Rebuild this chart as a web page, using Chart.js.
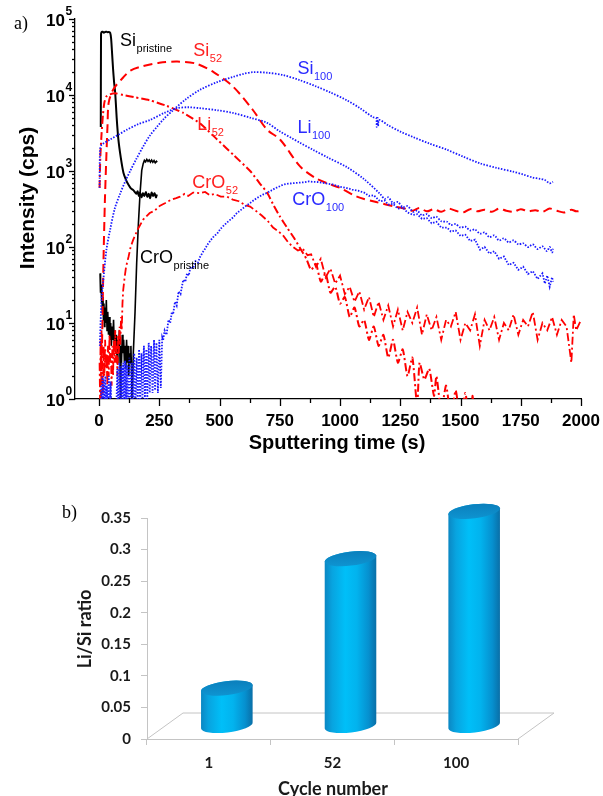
<!DOCTYPE html>
<html>
<head>
<meta charset="utf-8">
<script src="https://cdn.jsdelivr.net/npm/chart.js@4.4.1/dist/chart.umd.min.js"></script>
<style>
  body { margin: 0; background: #fff; }
  #wrap { position: relative; width: 603px; height: 796px; overflow: hidden; }
  canvas { position: absolute; left: 0; }
  #depth { top: 0; }
  #ratio { top: 460px; }
</style>
</head>
<body>
<div id="wrap">
  <canvas id="depth" width="603" height="460"></canvas>
  <canvas id="ratio" width="603" height="336"></canvas>
</div>
<script>
// ---- panel a: depth profiles, [sputtering time (s), intensity (cps)] ----
var siPristine = [[7,3800],[8,62000],[10,67000],[15,68000],[20,66000],[25,67500],[30,68000],[35,67000],[40,67500],[46,66000],[50,55000],[54,35000],[58,22000],[62,15000],[67,10500],[73,5000],[80,2600],[90,1500],[101,950],[112,760],[122,660],[132,590],[142,560],[148,530],[154,500],[160,540],[165,470],[170,520],[176,450],[182,510],[188,470],[194,530],[200,460],[206,500],[212,440],[218,520],[224,470],[230,510],[236,450],[240,490]];

var croPristine = [[4,45],[6,25],[8,32],[10,18],[12,28],[14,14],[16,22],[18,11],[20,18],[22,9],[24,16],[27,10],[30,20],[33,8],[36,14],[39,7],[42,12],[45,6],[48,10],[51,5],[54,9],[57,6],[60,11],[63,5],[66,8],[69,4],[72,7],[75,3],[78,6],[81,4],[84,8],[87,3],[90,0.5],[91,5],[93,3],[96,7],[99,4],[102,6],[105,3],[108,5],[111,2.5],[114,6],[117,3],[120,5],[123,2],[126,4],[129,3],[132,5],[135,2],[137,0.8],[142,4],[149,13.5],[156,62],[163,200],[170,510],[177,1020],[183,1250],[188,1380],[193,1320],[198,1420],[203,1340],[208,1400],[213,1310],[218,1390],[223,1300],[228,1370],[233,1280],[238,1340],[241,1300]];

var si52 = [[8,1],[12,5],[18,60],[24,400],[30,1500],[35,4000],[40,8000],[60,12000],[100,17000],[130,21000],[183,24000],[250,26500],[324,27500],[400,26000],[475,20000],[556,12900],[639,6300],[697,3500],[751,2600],[834,1150],[900,800],[946,690],[1000,600],[1070,460],[1150,390],[1230,340],[1270,320],[1300,300],[1330,325],[1360,295],[1390,315],[1420,290],[1450,320],[1480,300],[1510,285],[1540,315],[1570,295],[1600,310],[1630,290],[1660,320],[1690,300],[1720,290],[1750,315],[1780,295],[1810,305],[1840,290],[1870,320],[1900,300],[1930,285],[1960,310],[1980,295],[2000,300]];

var li52 = [[2,600],[5,1500],[10,3000],[16,5500],[22,8000],[30,9500],[45,10200],[70,10500],[100,10000],[150,9300],[212,8500],[280,7200],[350,5800],[420,4200],[490,2600],[560,1600],[627,1000],[665,700],[697,520],[725,350],[751,250],[780,180],[810,130],[840,90],[860,70],[880,50],[900,60],[920,35],[940,45],[960,25],[980,30],[1000,18],[1020,22],[1040,12],[1060,16],[1080,9],[1100,11],[1120,6],[1140,9],[1160,5],[1180,7],[1200,3.5],[1220,6],[1240,3],[1260,4.5],[1280,2],[1300,3.5],[1320,0.8],[1330,3],[1350,1.8],[1370,2.5],[1390,1.1],[1400,2],[1420,0.7],[1440,1.5],[1460,0.6],[1480,1.3],[1500,0.5],[1520,1.2],[1540,0.4],[1550,1.1],[1560,0.3]];

var cro52 = [[2,3],[4,1],[6,6],[8,2],[10,8],[13,3],[16,1.2],[19,5],[22,2],[25,6],[28,2.5],[31,4],[34,1.5],[37,5],[40,2],[43,7],[46,3],[49,4],[52,1.5],[55,5],[58,2],[61,6],[64,3],[67,8],[70,3],[73,5],[76,2],[79,7],[82,4],[85,9],[88,5],[91,12],[94,8],[97,18],[100,27],[106,40],[112,55],[122,74],[131,100],[141,123],[160,170],[183,230],[210,280],[230,300],[253,350],[275,380],[300,420],[320,440],[336,460],[355,500],[370,470],[390,520],[419,510],[440,530],[460,480],[480,500],[505,460],[531,460],[555,420],[580,400],[603,360],[627,340],[650,300],[675,260],[700,220],[722,180],[745,160],[765,140],[785,115],[805,100],[825,90],[845,95],[865,78],[880,80],[900,55],[920,70],[940,40],[960,52],[980,33],[1000,42],[1020,24],[1040,30],[1060,19],[1080,26],[1100,15],[1120,22],[1140,12],[1160,19],[1180,11],[1200,17],[1220,9],[1240,15],[1260,8],[1280,14],[1300,10],[1320,16],[1340,7],[1360,13],[1380,8],[1400,12],[1420,6],[1440,11],[1460,9],[1480,14],[1500,6],[1520,10],[1540,8],[1560,13],[1580,5],[1600,11],[1620,8],[1640,12],[1660,6],[1680,10],[1700,8],[1720,13],[1740,7],[1760,11],[1780,9],[1800,14],[1820,6],[1840,10],[1860,8],[1880,12],[1900,7],[1920,11],[1940,9],[1960,3],[1970,13],[1980,8],[2000,11]];

var si100 = [[3,5],[10,20],[17,35],[30,90],[46,170],[65,320],[87,500],[110,750],[129,1000],[155,1450],[183,2100],[210,2900],[240,3800],[270,4900],[307,6300],[360,8800],[419,11700],[490,14800],[556,17300],[600,19000],[639,20000],[700,19600],[763,18300],[830,15800],[900,13000],[960,10800],[1029,8500],[1080,6800],[1137,5100],[1150,5000],[1152,3800],[1156,5000],[1158,3900],[1162,4700],[1200,4000],[1250,3300],[1303,2800],[1370,2300],[1444,1900],[1510,1550],[1581,1260],[1650,1100],[1718,980],[1760,900],[1800,820],[1830,790],[1850,760],[1870,690],[1884,720]];

var li100 = [[2,600],[4,1900],[10,2200],[46,2600],[80,3000],[116,3500],[160,4100],[212,4700],[270,5800],[324,6700],[370,6900],[419,6700],[490,6300],[556,5800],[630,5000],[697,4300],[751,3300],[800,2700],[834,2350],[888,1900],[950,1500],[1029,1120],[1100,780],[1166,500],[1185,430],[1200,450],[1220,380],[1240,390],[1260,335],[1280,345],[1303,290],[1320,300],[1340,262],[1360,270],[1380,240],[1400,250],[1420,218],[1444,215],[1460,195],[1480,200],[1500,180],[1520,185],[1540,165],[1560,170],[1581,150],[1600,155],[1620,135],[1640,142],[1660,122],[1680,130],[1700,115],[1720,122],[1740,108],[1760,112],[1780,100],[1800,108],[1820,94],[1840,102],[1859,88],[1870,100],[1880,85],[1884,95]];

var cro100 = [[8,1.5],[11,0.6],[14,2],[17,0.7],[20,1.8],[23,0.6],[26,2],[29,0.5],[32,1.5],[36,0.5],[40,2],[44,0.5],[48,1.7],[52,0.6],[58,0.4],[64,1],[70,0.5],[76,2.5],[80,0.6],[84,3],[88,0.5],[92,2.7],[96,0.6],[100,3],[104,0.5],[108,3.2],[112,0.6],[116,2.8],[120,0.5],[126,3.5],[130,0.6],[136,3],[140,0.8],[146,4],[150,0.7],[156,3.5],[160,0.8],[166,4.5],[170,0.8],[176,4],[180,1],[186,5],[190,1],[196,4.5],[200,1],[206,5.5],[210,1.2],[216,5],[222,1.2],[228,6],[232,1.3],[238,5.5],[244,1.2],[250,6],[256,1.4],[262,6.5],[266,6],[272,8],[280,7],[288,11],[295,10],[302,14],[307,13],[315,19],[322,17],[330,26],[338,24],[349,37],[358,35],[365,45],[372,42],[380,55],[390,52],[400,65],[410,62],[419,74],[430,85],[440,95],[452,110],[465,125],[478,140],[490,150],[505,175],[520,195],[538,220],[556,245],[572,280],[590,310],[608,345],[627,380],[645,420],[660,450],[680,490],[697,515],[715,555],[730,590],[750,630],[763,660],[785,680],[800,690],[825,700],[850,710],[870,730],[888,720],[910,715],[930,700],[950,680],[970,665],[1000,620],[1025,600],[1050,570],[1075,550],[1100,520],[1120,470],[1140,480],[1166,400],[1185,410],[1200,360],[1220,370],[1240,320],[1260,330],[1280,285],[1303,265],[1320,270],[1340,235],[1360,240],[1380,205],[1400,215],[1420,180],[1444,180],[1460,160],[1480,165],[1500,140],[1520,145],[1540,120],[1560,125],[1581,92],[1600,100],[1620,82],[1640,88],[1660,70],[1680,75],[1700,58],[1720,62],[1740,50],[1760,55],[1780,44],[1800,48],[1820,38],[1840,45],[1850,33],[1860,42],[1870,30],[1880,40],[1884,35]];

var timeTicks = [0,125,250,375,500,625,750,875,1000,1125,1250,1375,1500,1625,1750,1875,2000];
var timeTickLabels = ['0','','250','','500','','750','','1000','','1250','','1500','','1750','','2000'];
var intensityDecades = [1,10,100,1000,10000,100000];
var intensityExponents = ['0','1','2','3','4','5'];

// ---- panel b: Li/Si ratio per cycle ----
var cycles = ['1','52','100'];
var liSiRatio = [0.06,0.265,0.34];
var ratioTicks = [0,0.05,0.1,0.15,0.2,0.25,0.3,0.35];
var ratioTickLabels = ['0','0.05','0.1','0.15','0.2','0.25','0.3','0.35'];

function toPoints(arr) {
  return arr.map(function(p){ return {x: p[0], y: p[1]}; });
}

var RED = '#ff0000', BLUE = '#1a1aff', BLACK = '#000000';

function line(label, data, color, width, dash, tension) {
  return {
    label: label, data: toPoints(data), borderColor: color, borderWidth: width,
    borderDash: dash, pointRadius: 0, fill: false, tension: tension
  };
}

// no automatic label overhang padding, the plot box is set by layout.padding
function zeroPad(scale) {
  scale.paddingLeft = 0; scale.paddingRight = 0;
  scale.paddingTop = 0; scale.paddingBottom = 0;
}

// annotation anchors, in data coordinates (time, intensity)
var seriesNotes = [
  {main:'Si', sub:'pristine', t:87, v:44000, color:'#000'},
  {main:'Si', sub:'52', t:391, v:32600, color:'#ff2020'},
  {main:'Si', sub:'100', t:823, v:18900, color:'#2a2aff'},
  {main:'Li', sub:'52', t:407, v:3470, color:'#ff2020'},
  {main:'Li', sub:'100', t:823, v:3160, color:'#2a2aff'},
  {main:'CrO', sub:'52', t:387, v:600, color:'#ff2020'},
  {main:'CrO', sub:'100', t:802, v:357, color:'#2a2aff'},
  {main:'CrO', sub:'pristine', t:170, v:61, color:'#000'}
];

var depthDecor = {
  id: 'depthDecor',
  afterDraw: function(chart) {
    var ctx = chart.ctx, xs = chart.scales.x, ys = chart.scales.y, area = chart.chartArea;
    ctx.save();
    ctx.strokeStyle = '#000';
    ctx.lineWidth = 1.3;
    timeTicks.forEach(function(v){
      var px = Math.round(xs.getPixelForValue(v)) + 0.5;
      var len = v % 250 === 0 ? 7 : 4;
      ctx.beginPath(); ctx.moveTo(px, area.bottom); ctx.lineTo(px, area.bottom + len); ctx.stroke();
    });
    for (var d = 0; d < 5; d++) {
      for (var m = 1; m < 10; m++) {
        var py = Math.round(ys.getPixelForValue(m * Math.pow(10, d))) + 0.5;
        var len = m === 1 ? 6 : 3;
        ctx.beginPath(); ctx.moveTo(area.left - len, py); ctx.lineTo(area.left, py); ctx.stroke();
      }
    }
    var topY = Math.round(ys.getPixelForValue(100000)) + 0.5;
    ctx.beginPath(); ctx.moveTo(area.left - 6, topY); ctx.lineTo(area.left, topY); ctx.stroke();

    // decade labels 10^n
    ctx.fillStyle = '#000';
    intensityDecades.forEach(function(v, i){
      var py = ys.getPixelForValue(v);
      ctx.font = 'bold 17px "Liberation Sans"';
      ctx.textAlign = 'right'; ctx.textBaseline = 'alphabetic';
      ctx.fillText('10', 65, py + 6.5);
      ctx.font = 'bold 12px "Liberation Sans"';
      ctx.textAlign = 'left';
      ctx.fillText(intensityExponents[i], 65.5, py - 4.5);
    });

    // axis titles
    ctx.font = 'bold 20px "Liberation Sans"';
    ctx.textAlign = 'center'; ctx.textBaseline = 'middle';
    ctx.fillText('Sputtering time (s)', 337, 443);
    ctx.save();
    ctx.translate(28, 198);
    ctx.rotate(-Math.PI / 2);
    ctx.font = 'bold 21px "Liberation Sans"';
    ctx.fillText('Intensity (cps)', 0, 0);
    ctx.restore();

    ctx.font = '18px "Liberation Serif"';
    ctx.textAlign = 'left'; ctx.textBaseline = 'alphabetic';
    ctx.fillText('a)', 14, 29);

    // curve labels
    seriesNotes.forEach(function(n){
      var px = xs.getPixelForValue(n.t), py = ys.getPixelForValue(n.v);
      ctx.fillStyle = n.color;
      ctx.font = '18px "Liberation Sans"';
      ctx.textAlign = 'left'; ctx.textBaseline = 'alphabetic';
      ctx.fillText(n.main, px, py);
      var w = ctx.measureText(n.main).width;
      ctx.font = '11px "Liberation Sans"';
      ctx.fillText(n.sub, px + w + 0.5, py + 6);
    });
    ctx.restore();
  }
};

new Chart(document.getElementById('depth'), {
  type: 'line',
  data: {
    datasets: [
      line('Si100', si100, BLUE, 1.8, [1.5, 1.5], 0.3),
      line('Li100', li100, BLUE, 1.8, [1.5, 1.5], 0.3),
      line('CrO100', cro100, BLUE, 1.8, [1.5, 1.5], 0),
      line('Si52', si52, RED, 2, [9, 5], 0.3),
      line('Li52', li52, RED, 2, [8, 3, 2, 3], 0.2),
      line('CrO52', cro52, RED, 1.8, [8, 3, 2, 3], 0),
      line('CrOpristine', croPristine, BLACK, 1.6, [], 0),
      line('Sipristine', siPristine, BLACK, 2, [], 0.2)
    ]
  },
  options: {
    responsive: false,
    animation: false,
    events: [],
    layout: { padding: { top: 19, right: 22, left: 0, bottom: 0 } },
    plugins: { legend: { display: false }, tooltip: { enabled: false } },
    scales: {
      x: {
        type: 'linear', min: -100, max: 2000,
        afterBuildTicks: function(scale){ scale.ticks = timeTicks.map(function(v){ return {value: v}; }); },
        afterFit: function(scale){ scale.height = 61; zeroPad(scale); },
        grid: { display: false, drawTicks: false },
        border: { display: true, color: '#000', width: 1.3 },
        ticks: {
          autoSkip: false, maxRotation: 0, padding: 12, color: '#000',
          font: { family: 'Liberation Sans', size: 17, weight: 'bold' },
          callback: function(value, index){ return timeTickLabels[index]; }
        }
      },
      y: {
        type: 'logarithmic', min: 1, max: 100000,
        afterBuildTicks: function(scale){ scale.ticks = intensityDecades.map(function(v){ return {value: v}; }); },
        afterFit: function(scale){ scale.width = 75; zeroPad(scale); },
        grid: { display: false, drawTicks: false },
        border: { display: true, color: '#000', width: 1.3 },
        ticks: { display: false }
      }
    }
  },
  plugins: [depthDecor]
});

// ---- panel b ----
var floorDepth = { dx: 36, dy: -26 };

var cylinderDecor = {
  id: 'cylinderDecor',
  beforeDatasetsDraw: function(chart) {
    var ctx = chart.ctx, xs = chart.scales.x, ys = chart.scales.y;
    var y0 = ys.getPixelForValue(0);
    ctx.save();
    ctx.strokeStyle = '#c4c4c4'; ctx.lineWidth = 1;
    ctx.beginPath();
    ctx.moveTo(xs.left, y0);
    ctx.lineTo(xs.left + floorDepth.dx, y0 + floorDepth.dy);
    ctx.lineTo(xs.right + floorDepth.dx, y0 + floorDepth.dy);
    ctx.lineTo(xs.right, y0);
    ctx.stroke();
    ctx.restore();
  },
  afterDatasetsDraw: function(chart) {
    var ctx = chart.ctx;
    var meta = chart.getDatasetMeta(0);
    var rot = -0.12;
    ctx.save();
    meta.data.forEach(function(bar){
      var p = bar.getProps(['x', 'y', 'base', 'width'], true);
      var cx = p.x + floorDepth.dx / 2;
      var top = p.y + floorDepth.dy / 2;
      var bot = p.base + floorDepth.dy / 2;
      var rx = p.width / 2, ry = 7;
      var g = ctx.createLinearGradient(cx - rx, 0, cx + rx, 0);
      g.addColorStop(0, '#0b86c2');
      g.addColorStop(0.15, '#08a4e0');
      g.addColorStop(0.4, '#00bff8');
      g.addColorStop(0.62, '#02b3ee');
      g.addColorStop(0.85, '#0690cf');
      g.addColorStop(1, '#0a6ea6');
      ctx.fillStyle = g;
      ctx.beginPath();
      ctx.ellipse(cx, bot, rx, ry, rot, 0, Math.PI, false);
      ctx.lineTo(cx - rx * Math.cos(rot), top - rx * Math.sin(rot));
      ctx.ellipse(cx, top, rx, ry, rot, Math.PI, 2 * Math.PI, false);
      ctx.closePath();
      ctx.fill();
      var tg = ctx.createLinearGradient(0, top - ry, 0, top + ry);
      tg.addColorStop(0, '#0b80bd');
      tg.addColorStop(1, '#0e93d0');
      ctx.fillStyle = tg;
      ctx.beginPath();
      ctx.ellipse(cx, top, rx, ry, rot, 0, 2 * Math.PI);
      ctx.fill();
    });
    ctx.restore();
  },
  afterDraw: function(chart) {
    var ctx = chart.ctx;
    ctx.save();
    ctx.fillStyle = '#1a1a1a';
    ctx.font = 'bold 18px Lato';
    ctx.textAlign = 'center'; ctx.textBaseline = 'middle';
    ctx.fillText('Cycle number', 333, 329);
    ctx.save();
    ctx.translate(85, 169);
    ctx.rotate(-Math.PI / 2);
    ctx.fillText('Li/Si ratio', 0, 0);
    ctx.restore();
    ctx.fillStyle = '#000';
    ctx.font = '18px "Liberation Serif"';
    ctx.textAlign = 'left'; ctx.textBaseline = 'alphabetic';
    ctx.fillText('b)', 62, 58);
    ctx.restore();
  }
};

new Chart(document.getElementById('ratio'), {
  type: 'bar',
  data: {
    labels: cycles,
    datasets: [{
      label: 'Li/Si ratio', data: liSiRatio,
      backgroundColor: 'rgba(0,0,0,0)', borderWidth: 0,
      barPercentage: 0.42, categoryPercentage: 1
    }]
  },
  options: {
    responsive: false,
    animation: false,
    events: [],
    layout: { padding: { top: 58, right: 85, left: 0, bottom: 0 } },
    plugins: { legend: { display: false }, tooltip: { enabled: false } },
    scales: {
      x: {
        afterFit: function(scale){ scale.height = 57; zeroPad(scale); },
        grid: { display: true, drawOnChartArea: false, offset: true, tickLength: 6, color: '#c4c4c4' },
        border: { display: true, color: '#c4c4c4', width: 1 },
        ticks: { padding: 9, color: '#1a1a1a', font: { family: 'Lato', size: 15, weight: 'bold' } }
      },
      y: {
        min: 0, max: 0.35,
        afterBuildTicks: function(scale){ scale.ticks = ratioTicks.map(function(v){ return {value: v}; }); },
        afterFit: function(scale){ scale.width = 147; zeroPad(scale); },
        grid: { display: true, drawOnChartArea: false, tickLength: 6, color: '#c4c4c4' },
        border: { display: true, color: '#c4c4c4', width: 1 },
        ticks: {
          padding: 10, color: '#1a1a1a', font: { family: 'Lato', size: 15, weight: 'bold' },
          callback: function(value, index){ return ratioTickLabels[index]; }
        }
      }
    }
  },
  plugins: [cylinderDecor]
});
</script>
</body>
</html>
